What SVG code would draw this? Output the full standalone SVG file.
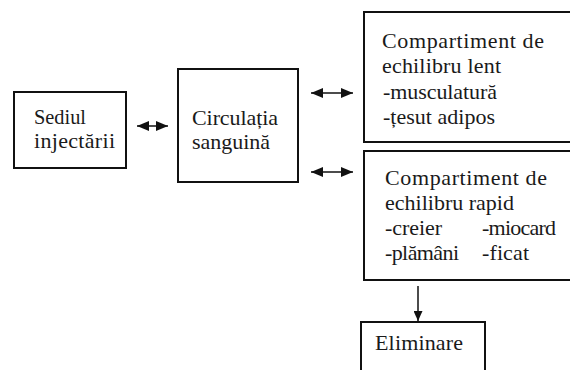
<svg xmlns="http://www.w3.org/2000/svg" width="570" height="370" viewBox="0 0 570 370">
  <style>
    .box { fill: #ffffff; stroke: #111111; stroke-width: 2; }
    .t { font-family: 'Liberation Serif', Tinos, 'Times New Roman', 'DejaVu Serif', serif; font-size: 22px; fill: #1a1a1a; }
    .c { stroke: #111111; stroke-width: 1.5; fill: none; }
  </style>
  <defs>
    <marker id="ah" viewBox="0 0 12 10" refX="12" refY="5" markerWidth="12" markerHeight="10" markerUnits="userSpaceOnUse" orient="auto-start-reverse">
      <path d="M0,0 L12,5 L0,10 z" fill="#111111"/>
    </marker>
    <marker id="ahs" viewBox="0 0 10 9" refX="10" refY="4.5" markerWidth="10" markerHeight="9" markerUnits="userSpaceOnUse" orient="auto-start-reverse">
      <path d="M0,0 L10,4.5 L0,9 z" fill="#111111"/>
    </marker>
  </defs>
  <rect width="570" height="370" fill="#ffffff"/>

  <g id="connectors">
    <line class="c" x1="137" y1="126" x2="168" y2="126" marker-start="url(#ah)" marker-end="url(#ah)"/>
    <line class="c" x1="311" y1="93" x2="353" y2="93" marker-start="url(#ah)" marker-end="url(#ah)"/>
    <line class="c" x1="311" y1="172" x2="353" y2="172" marker-start="url(#ah)" marker-end="url(#ah)"/>
    <line class="c" x1="418" y1="286" x2="418" y2="321" marker-end="url(#ahs)"/>
  </g>

  <g id="sediul">
    <rect class="box" x="14" y="92" width="112" height="76"/>
    <text class="t" x="34" y="124" textLength="52" lengthAdjust="spacingAndGlyphs">Sediul</text>
    <text class="t" x="34" y="148" textLength="81" lengthAdjust="spacing">injectării</text>
  </g>

  <g id="circulatia">
    <rect class="box" x="178" y="69" width="120" height="113"/>
    <text class="t" x="192" y="125" textLength="86" lengthAdjust="spacing">Circulația</text>
    <text class="t" x="192" y="149" textLength="78" lengthAdjust="spacing">sanguină</text>
  </g>

  <g id="lent">
    <rect class="box" x="364" y="12" width="215" height="130"/>
    <text class="t" x="382" y="48" textLength="162" lengthAdjust="spacing">Compartiment de</text>
    <text class="t" x="382" y="73" textLength="119" lengthAdjust="spacing">echilibru lent</text>
    <text class="t" x="383" y="99" textLength="114" lengthAdjust="spacing">-musculatură</text>
    <text class="t" x="383" y="124" textLength="112" lengthAdjust="spacing">-țesut adipos</text>
  </g>

  <g id="rapid">
    <rect class="box" x="364" y="151" width="215" height="129"/>
    <text class="t" x="385" y="185" textLength="162" lengthAdjust="spacing">Compartiment de</text>
    <text class="t" x="385" y="210" textLength="129" lengthAdjust="spacing">echilibru rapid</text>
    <text class="t" x="385" y="235" textLength="57" lengthAdjust="spacing">-creier</text>
    <text class="t" x="482" y="235" textLength="74" lengthAdjust="spacing">-miocard</text>
    <text class="t" x="385" y="260" textLength="74" lengthAdjust="spacing">-plămâni</text>
    <text class="t" x="482" y="260" textLength="47" lengthAdjust="spacing">-ficat</text>
  </g>

  <g id="eliminare">
    <rect class="box" x="361" y="322" width="124" height="60"/>
    <text class="t" x="375" y="350" textLength="88" lengthAdjust="spacing">Eliminare</text>
  </g>
</svg>
